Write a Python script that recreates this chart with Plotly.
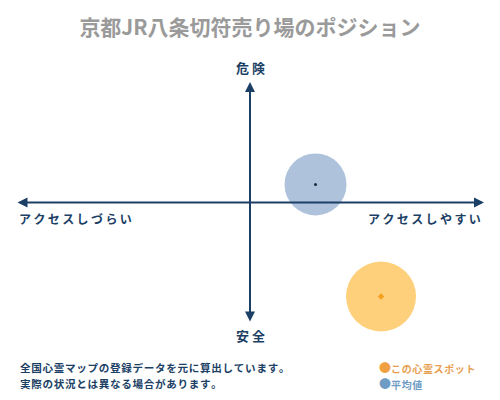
import plotly.graph_objects as go

# Data (position on access axis: -1 = hard, 1 = easy; danger axis: -1 = safe, 1 = dangerous)
series_names = ["この心霊スポット", "平均値"]
access_values = [0.56, 0.28]
danger_values = [-0.78, 0.15]
bubble_sizes = [70, 62]

title_text = "京都JR八条切符売り場のポジション"
label_top = "危険"
label_bottom = "安全"
label_left = "アクセスしづらい"
label_right = "アクセスしやすい"
note_lines = ["全国心霊マップの登録データを元に算出しています。", "実際の状況とは異なる場合があります。"]

FONT = "Noto Sans CJK JP"
NAVY = "#1c3f66"
SPACE = "\u2009"
W, H = 500, 400


def spaced(s, sep=SPACE):
    return sep.join(list(s))


fig = go.Figure()

# bubbles
fig.add_trace(go.Scatter(
    x=[access_values[1]], y=[danger_values[1]], mode="markers", cliponaxis=False,
    marker=dict(size=bubble_sizes[1], color="rgba(120,155,195,0.6)", line=dict(width=0)),
    hoverinfo="skip", showlegend=False))
fig.add_trace(go.Scatter(
    x=[access_values[1]], y=[danger_values[1]], mode="markers", cliponaxis=False,
    marker=dict(size=3, color="#1a2a3a"), hoverinfo="skip", showlegend=False))
fig.add_trace(go.Scatter(
    x=[access_values[0]], y=[danger_values[0]], mode="markers", cliponaxis=False,
    marker=dict(size=bubble_sizes[0], color="rgba(254,200,100,0.85)", line=dict(width=0)),
    hoverinfo="skip", showlegend=False))
fig.add_trace(go.Scatter(
    x=[access_values[0]], y=[danger_values[0]], mode="markers", cliponaxis=False,
    marker=dict(size=5, color="#f5a020", symbol="diamond"), hoverinfo="skip", showlegend=False))

ann = []
# axes arrows
ann.append(dict(x=1, y=0, ax=-1, ay=0, xref="x", yref="y", axref="x", ayref="y",
                showarrow=True, arrowhead=2, startarrowhead=2, arrowside="end+start",
                arrowwidth=2, arrowsize=1, startarrowsize=1, arrowcolor=NAVY, text=""))
ann.append(dict(x=0, y=1, ax=0, ay=-1, xref="x", yref="y", axref="x", ayref="y",
                showarrow=True, arrowhead=2, startarrowhead=2, arrowside="end+start",
                arrowwidth=2, arrowsize=1, startarrowsize=1, arrowcolor=NAVY, text=""))

# axis labels
ann.append(dict(x=0, y=1, xref="x", yref="y", yshift=14, showarrow=False,
                text="<b>" + spaced(label_top, " ") + "</b>", font=dict(family=FONT, size=13, color=NAVY)))
ann.append(dict(x=0, y=-1, xref="x", yref="y", yshift=-12, showarrow=False,
                text="<b>" + spaced(label_bottom, " ") + "</b>", font=dict(family=FONT, size=13, color=NAVY)))
ann.append(dict(x=-1, y=0, xref="x", yref="y", xanchor="left", yshift=-16, xshift=1, showarrow=False,
                text="<b>" + spaced(label_left) + "</b>", font=dict(family=FONT, size=12, color=NAVY)))
ann.append(dict(x=1, y=0, xref="x", yref="y", xanchor="right", yshift=-16, xshift=-1, showarrow=False,
                text="<b>" + spaced(label_right) + "</b>", font=dict(family=FONT, size=12, color=NAVY)))

# notes
for i, line in enumerate(note_lines):
    ann.append(dict(x=18 / W, y=1 - (367 + 16 * i) / H, xref="paper", yref="paper",
                    xanchor="left", yanchor="middle", showarrow=False,
                    text="<b>" + spaced(line, "\u200a") + "</b>", font=dict(family=FONT, size=10.6, color=NAVY)))

# legend
legend_colors = ["#f0a040", "#6f9cc4"]
legend_text_colors = ["#e8a050", "#6f9cc4"]
for i, name in enumerate(series_names):
    ann.append(dict(x=377 / W, y=1 - (367 + 16 * i) / H, xref="paper", yref="paper",
                    xanchor="left", yanchor="middle", showarrow=False,
                    text="<span style='color:%s;font-size:12px'>●</span><b>%s</b>" % (legend_colors[i], spaced(name, "\u200a")),
                    font=dict(family=FONT, size=10, color=legend_text_colors[i])))

fig.update_layout(
    width=W, height=H,
    margin=dict(l=0, r=0, t=0, b=0),
    paper_bgcolor="white", plot_bgcolor="white",
    title=dict(text="<b>" + title_text + "</b>", x=0.5, xanchor="center", y=1 - 28 / H, yanchor="middle",
               font=dict(family=FONT, size=21, color="#9a9a9a")),
    xaxis=dict(range=[-1, 1], visible=False, fixedrange=True, domain=[16 / W, 484 / W]),
    yaxis=dict(range=[-1, 1], visible=False, fixedrange=True, domain=[1 - 323 / H, 1 - 82 / H]),
    annotations=ann,
    showlegend=False,
)

fig.write_html("out.html", config={"displayModeBar": False},
               post_script="document.body.style.margin='0';")
